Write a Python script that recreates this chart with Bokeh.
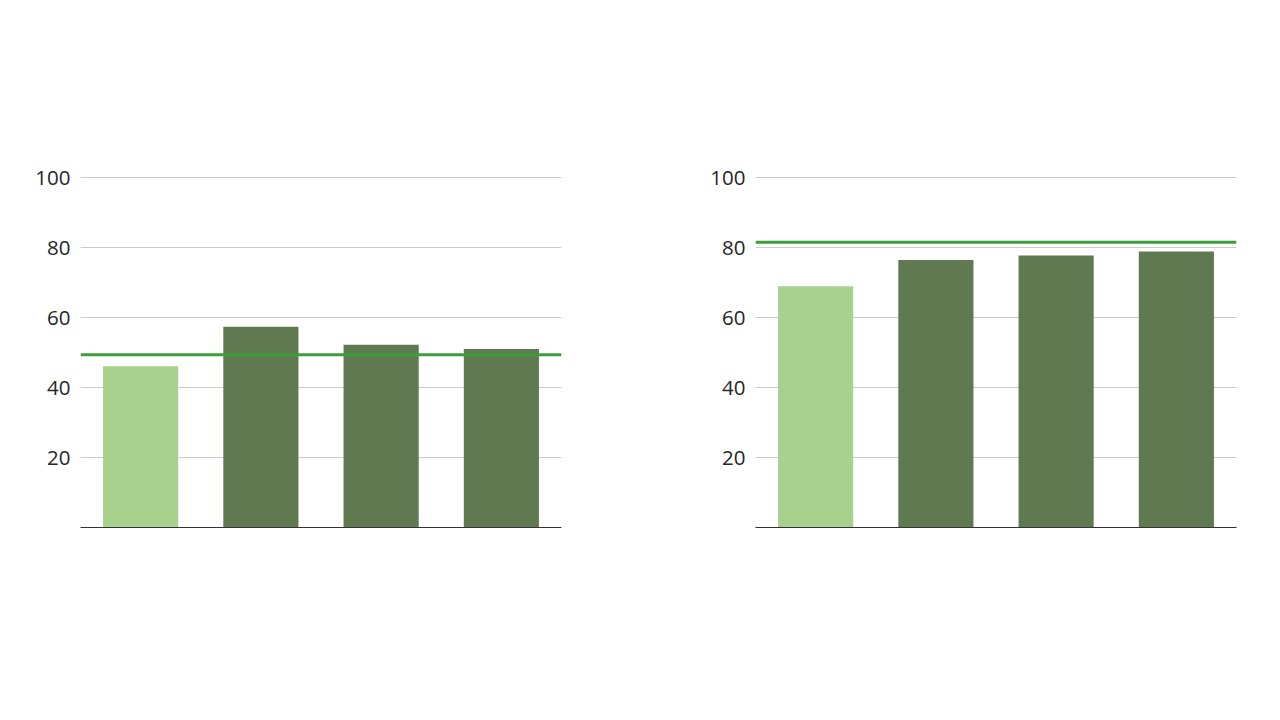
from bokeh.plotting import figure
from bokeh.layouts import row
from bokeh.models import Span, FixedTicker, Range1d
from bokeh.embed import file_html
from bokeh.resources import INLINE

categories = ["A", "B", "C", "D"]
left_values = [46.1, 57.4, 52.3, 51.1]
left_reference = 49.4
right_values = [69.0, 76.5, 77.8, 79.0]
right_reference = 81.6
bar_colors = ["#a8d18d", "#5f7a51", "#5f7a51", "#5f7a51"]
y_ticks = [20, 40, 60, 80, 100]


def make_panel(values, ref, border_left, border_right):
    p = figure(x_range=categories, y_range=Range1d(0, 105),
               frame_width=481, frame_height=367,
               min_border_left=border_left, min_border_right=border_right,
               min_border_top=160, min_border_bottom=170,
               output_backend="svg", toolbar_location=None)
    p.vbar(x=categories, top=values, width=0.625, fill_color=bar_colors,
           line_color=None)
    p.add_layout(Span(location=ref, dimension="width", line_color="#3b9e3b",
                      line_width=3))
    p.outline_line_color = None
    p.x_range.range_padding = 0
    p.xgrid.grid_line_color = None
    p.ygrid.grid_line_color = "#cccccc"
    p.ygrid.grid_line_width = 1
    p.yaxis.ticker = FixedTicker(ticks=y_ticks)
    p.yaxis.axis_line_color = None
    p.yaxis.major_tick_line_color = None
    p.yaxis.minor_tick_line_color = None
    p.yaxis.major_tick_out = 0
    p.yaxis.major_tick_in = 0
    p.yaxis.major_label_standoff = 10
    p.yaxis.major_label_text_font = "Open Sans"
    p.yaxis.major_label_text_font_size = "20.5px"
    p.yaxis.major_label_text_color = "#262626"
    p.xaxis.axis_line_color = "#333333"
    p.xaxis.axis_line_width = 1.2
    p.xaxis.major_tick_line_color = None
    p.xaxis.minor_tick_line_color = None
    p.xaxis.major_label_text_font_size = "0px"
    p.xaxis.major_label_text_color = None
    return p


p1 = make_panel(left_values, left_reference, 80, 79)
p2 = make_panel(right_values, right_reference, 115, 35)
layout = row(p1, p2)

open("out.html", "w").write(file_html(layout, INLINE))
